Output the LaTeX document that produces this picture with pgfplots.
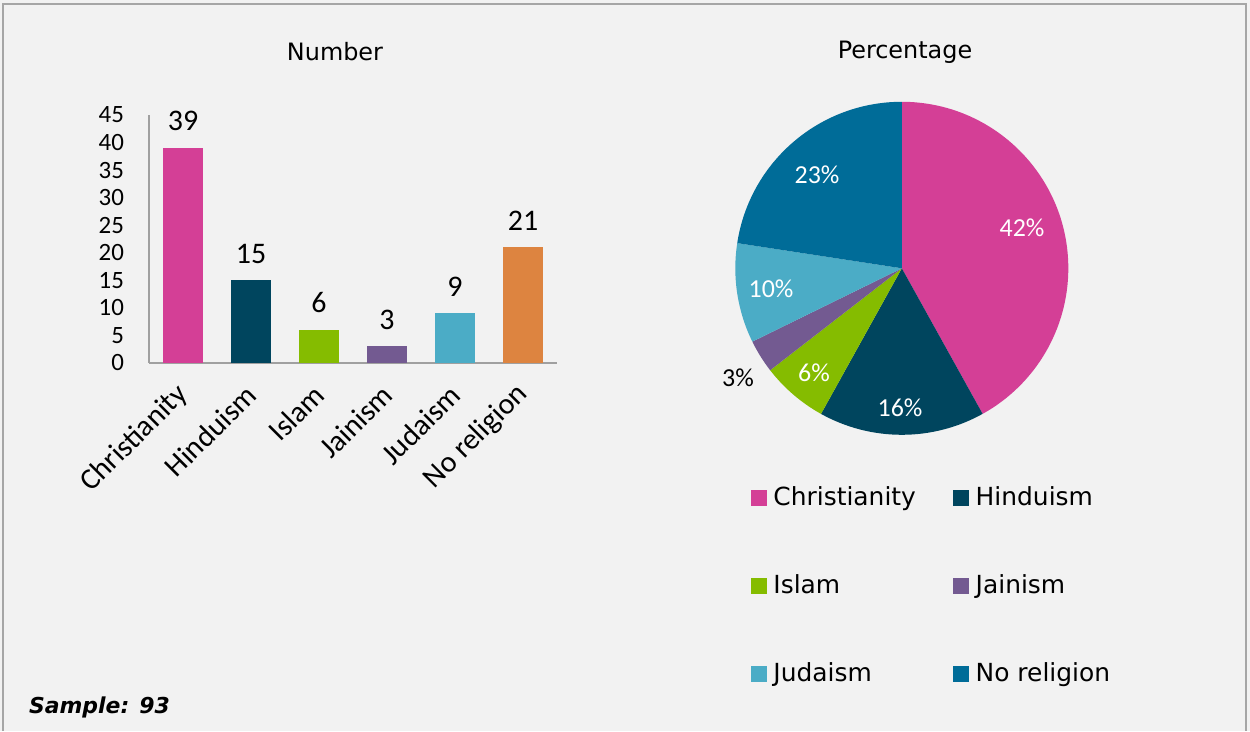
\documentclass[border=0pt]{standalone}
\usepackage{pgfplots}
\pgfplotsset{compat=1.18}
\usepackage{fontspec}
\newfontfamily\carl{Carlito}
\newfontfamily\tah{DejaVu Sans}

\definecolor{bgc}{HTML}{F2F2F2}
\definecolor{frame}{HTML}{A6A6A6}
\definecolor{axgray}{HTML}{A0A0A0}
\definecolor{cChr}{HTML}{D43F96}
\definecolor{cHin}{HTML}{00455E}
\definecolor{cIsl}{HTML}{85BC00}
\definecolor{cJai}{HTML}{735A91}
\definecolor{cJud}{HTML}{4BACC6}
\definecolor{cNoB}{HTML}{DD8440}
\definecolor{cNoP}{HTML}{006C98}

\begin{document}
\begin{tikzpicture}[x=0.5bp,y=0.5bp]
\fill[bgc] (0,0) rectangle (1250,731);
\draw[frame, line width=1bp] (3,0) -- (3,727) -- (1246,727) -- (1246,0);

\coordinate (barSW) at (149,368);
\coordinate (pieSW) at (735.3,296.2);

\node[font=\tah\fontsize{12}{14}\selectfont] at (335,679) {Number};
\node[font=\tah\fontsize{12}{14}\selectfont] at (905,679) {Percentage};
\node[font=\tah\fontsize{11}{13}\selectfont\bfseries\itshape, anchor=west] at (22,24) {Sample: 93};

% bar chart: counts
\begin{axis}[
  at={(barSW)}, anchor=south west,
  scale only axis, width=204bp, height=124bp,
  xmin=-0.5, xmax=5.5, ymin=0, ymax=45,
  axis lines*=left,
  axis line style={draw=axgray, line width=1bp, -},
  ytick={0,5,...,45}, xtick={0,...,5},
  xticklabels={Christianity,Hinduism,Islam,Jainism,Judaism,No religion},
  major tick length=0pt,
  /pgf/number format/assume math mode=true,
  yticklabel style={font=\carl\fontsize{12.5}{14}\selectfont, xshift=-9bp},
  xticklabel style={xshift=2.5bp, yshift=-11bp, rotate=45, anchor=east,
    font=\carl\fontsize{15}{17}\selectfont},
  ybar, bar width=20bp,
  nodes near coords,
  every node near coord/.append style={font=\carl\fontsize{15}{17}\selectfont, yshift=5bp},
  clip=false,
]
\addplot[fill=cChr, draw=none, bar shift=0pt] coordinates {(0,39)};
\addplot[fill=cHin, draw=none, bar shift=0pt] coordinates {(1,15)};
\addplot[fill=cIsl, draw=none, bar shift=0pt] coordinates {(2,6)};
\addplot[fill=cJai, draw=none, bar shift=0pt] coordinates {(3,3)};
\addplot[fill=cJud, draw=none, bar shift=0pt] coordinates {(4,9)};
\addplot[fill=cNoB, draw=none, bar shift=0pt] coordinates {(5,21)};
\end{axis}

% pie chart: same counts, share of 93
\begin{axis}[
  at={(pieSW)}, anchor=south west,
  scale only axis, width=166.5bp, height=166.5bp,
  xmin=-1, xmax=1, ymin=-1, ymax=1,
  hide axis, clip=false,
  legend columns=2, legend cell align=left,
  legend style={at={(0.045,-0.143)}, anchor=north west, draw=none, fill=none,
    inner sep=0pt, row sep=29bp,
    font=\tah\fontsize{12.5}{14}\selectfont,
    /tikz/every odd column/.append style={column sep=1.5bp},
    /tikz/every even column/.append style={column sep=16.5bp}},
]
\addlegendimage{legend image code/.code={\fill[cChr] (0bp,-3.75bp) rectangle (7.5bp,3.75bp);}}
\addlegendentry{Christianity}
\addlegendimage{legend image code/.code={\fill[cHin] (0bp,-3.75bp) rectangle (7.5bp,3.75bp);}}
\addlegendentry{Hinduism}
\addlegendimage{legend image code/.code={\fill[cIsl] (0bp,-3.75bp) rectangle (7.5bp,3.75bp);}}
\addlegendentry{Islam}
\addlegendimage{legend image code/.code={\fill[cJai] (0bp,-3.75bp) rectangle (7.5bp,3.75bp);}}
\addlegendentry{Jainism}
\addlegendimage{legend image code/.code={\fill[cJud] (0bp,-3.75bp) rectangle (7.5bp,3.75bp);}}
\addlegendentry{Judaism}
\addlegendimage{legend image code/.code={\fill[cNoP] (0bp,-3.75bp) rectangle (7.5bp,3.75bp);}}
\addlegendentry{No religion}

\xdef\angA{90}
\foreach \v/\c in {39/cChr,15/cHin,6/cIsl,3/cJai,9/cJud,21/cNoP}{
  \pgfmathsetmacro\angB{\angA-\v/93*360}
  \edef\temp{\noexpand\fill[\c] (axis cs:0,0) -- ++(\angA:83.25bp)
    arc[start angle=\angA, end angle=\angB, radius=83.25bp] -- cycle;}
  \temp
  \xdef\angA{\angB}
}
\end{axis}

\begin{scope}[font=\carl\fontsize{13}{15}\selectfont, text=white]
\node at (1022,503) {42\%};
\node at (900,323) {16\%};
\node at (814,358) {6\%};
\node at (771,442) {10\%};
\node at (817,556) {23\%};
\node[text=black] at (738,353) {3\%};
\end{scope}

\pgfresetboundingbox
\path (0,0) rectangle (1250,731);
\end{tikzpicture}
\end{document}
